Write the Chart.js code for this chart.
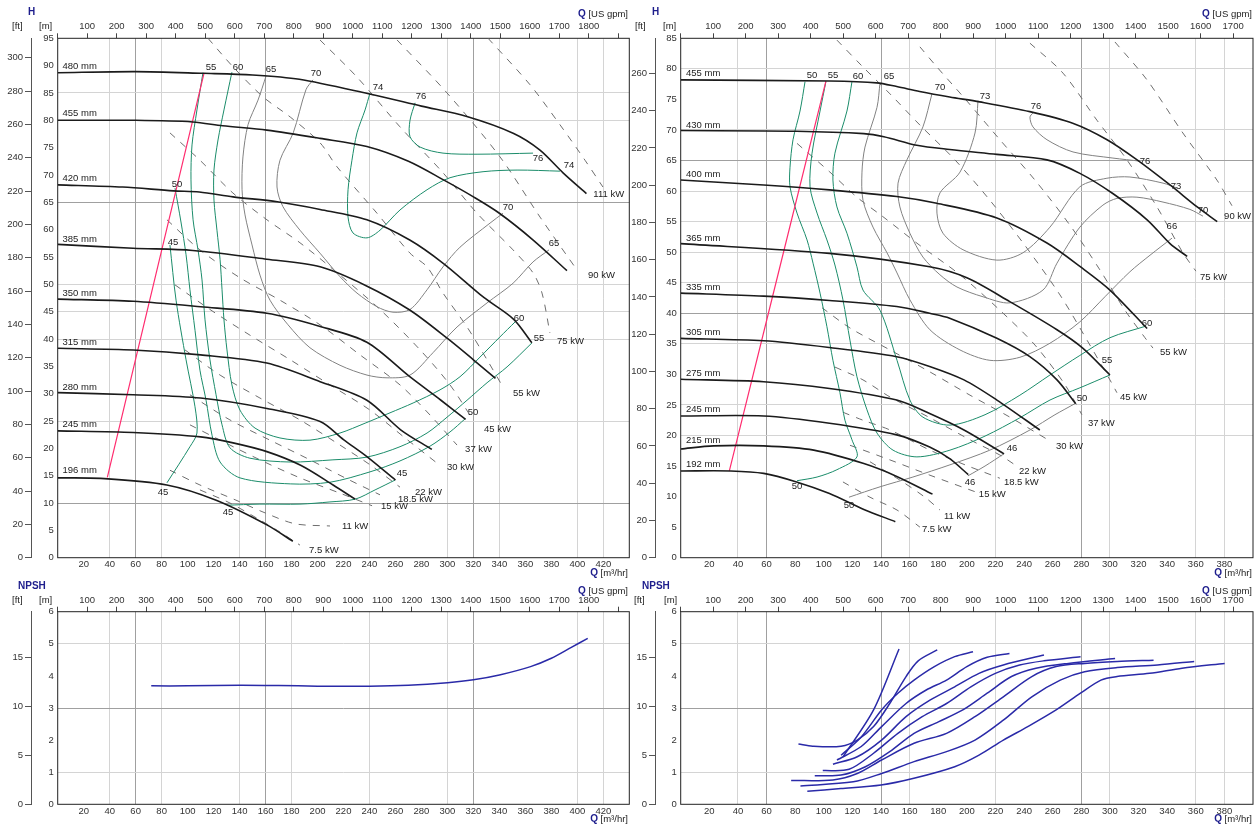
<!DOCTYPE html>
<html>
<head>
<meta charset="utf-8">
<script src="https://cdn.jsdelivr.net/npm/chart.js@4.4.1/dist/chart.umd.min.js"></script>
<style>
  body { margin: 0; background: #fff; width: 1259px; height: 825px; overflow: hidden; position: relative; }
  canvas { position: absolute; }
</style>
</head>
<body>
<canvas id="hLeft" width="640" height="580" style="left:0;top:0"></canvas>
<canvas id="hRight" width="629" height="580" style="left:630px;top:0"></canvas>
<canvas id="nLeft" width="640" height="245" style="left:0;top:580px"></canvas>
<canvas id="nRight" width="629" height="245" style="left:630px;top:580px"></canvas>
<script>
// ---- left pump: impeller curves, Q [m3/hr] / H [m]
const L480 = [[0,88.7],[60,88.9],[112,88.6],[150,88.3],[186,87.5],[240,84.8],[280,82.6],[315,80.7],[351,77.6],[371,74.6],[389,70.4],[407,66.6]];
const L455 = [[0,80.0],[60,80.0],[104,79.7],[127,79.0],[161,78.2],[202,76.7],[238,75.2],[270,72.5],[297,69.1],[320,66.0],[340,63.0],[366,58.1],[392,52.5]];
const L420 = [[0,68.2],[50,67.8],[89,67.1],[109,66.9],[135,66.0],[169,65.1],[202,63.7],[238,61.8],[271,58.1],[297,53.8],[328,47.6],[351,43.6],[365,39.3]];
const L385 = [[0,57.3],[58,56.6],[104,56.2],[161,54.6],[202,53.2],[237,49.8],[271,45.3],[300,40.1],[320,36.2],[337,32.8]];
const L350 = [[0,47.3],[58,46.9],[110,45.9],[161,44.7],[202,42.3],[238,39.4],[271,33.1],[295,28.8],[314,25.3]];
const L315 = [[0,38.3],[58,38.0],[110,37.1],[161,35.6],[202,32.2],[238,28.8],[264,23.4],[288,19.8]];
const L280 = [[0,30.2],[58,29.8],[110,29.2],[161,27.3],[202,24.9],[220,21.6],[238,18.5],[260,14.2]];
const L245 = [[0,23.2],[58,22.9],[110,22.1],[135,21.0],[161,19.4],[187,16.9],[212,13.3],[229,10.7]];
const L196 = [[0,14.6],[33,14.5],[84,13.3],[122,10.5],[161,6.0],[181,3.0]];
const redL = [[38.2,14.7],[112.6,88.6]];

// left efficiency lines
const eL45a = [[86.4,57.2],[91.1,47.1],[98.8,36.2],[105.7,27.6],[107.2,22.8],[101.8,20.3],[84.1,13.7]];
const eL45b = [[130.3,9.6],[155.7,9.8],[186.5,9.8],[209.6,10.2],[228.9,10.7],[244.3,12.4],[259.7,14.2]];
const eL50 = [[90.3,67.6],[94.9,61.4],[98.8,55.4],[101.8,49.0],[105.7,41.6],[109.5,34.3],[114.2,28.8],[118.8,22.4],[125.0,17.5],[140.3,14.6],[179.0,13.5],[209.6,13.8],[240.4,15.7],[263.5,17.7],[286.6,20.4],[302.0,23.0],[313.6,25.4]];
const eL55 = [[111.8,88.7],[107.2,81.9],[103.4,75.5],[102.6,69.1],[104.2,61.8],[108.0,56.3],[111.1,50.8],[113.4,43.5],[117.2,36.2],[121.9,29.8],[126.5,24.3],[132.6,20.1],[148.0,18.2],[179.0,17.5],[211.9,17.9],[238.1,18.4],[263.5,20.3],[284.3,22.8],[299.7,25.7],[315.1,28.8],[330.5,32.0],[345.9,34.9],[365.1,39.3]];
const eL60 = [[134.1,88.8],[128.0,81.9],[123.4,76.4],[120.3,70.9],[120.3,65.4],[122.6,59.9],[125.0,54.5],[126.5,49.0],[128.0,43.5],[130.3,38.0],[134.1,31.6],[140.3,27.0],[151.9,23.7],[171.1,21.9],[194.2,21.5],[217.3,22.8],[236.6,24.6],[255.8,26.5],[273.6,28.3],[294.3,30.7],[309.7,33.1],[325.1,36.7],[340.5,40.4],[352.0,43.1]];
const eL65 = [[160.4,88.1],[154.2,83.7],[146.5,79.2],[142.6,73.3],[141.9,67.3],[144.2,62.7],[149.6,57.2],[155.7,51.7],[163.4,47.1],[177.3,42.6],[194.2,38.4],[217.3,35.2],[238.1,33.4],[253.5,32.9],[271.2,33.4],[288.9,37.5],[307.4,42.2],[330.5,46.6],[350.5,50.2],[365.9,54.1],[378.2,56.3]];
const eL70 = [[196.5,87.4],[191.1,85.6],[181.3,77.7],[171.1,72.7],[168.8,67.8],[173.4,64.2],[186.5,59.9],[201.9,55.7],[217.3,51.4],[230.4,48.4],[245.8,45.9],[258.1,44.9],[271.2,45.4],[284.3,49.0],[296.6,53.2],[309.7,56.8],[332.8,61.2],[342.8,63.0]];
const eL74 = [[240.4,85.0],[236.6,81.9],[230.4,77.7],[226.5,72.7],[223.5,67.3],[223.5,62.3],[227.3,59.4],[238.1,58.5],[248.1,59.9],[263.5,63.6],[284.3,67.3],[302.0,69.5],[327.4,70.6],[353.6,70.9],[386.6,70.7]];
const eL76 = [[275.1,83.2],[271.2,80.0],[271.2,77.0],[279.0,75.1],[296.6,74.0],[322.8,73.8],[365.9,74.0]];

// left power lines (kW)
const pL111 = [[331.3,95],[363.6,86.5],[386.6,79.2],[405.9,72.7],[419.7,67.8]];
const pL90 = [[261.2,94.7],[299.7,85.0],[340.5,73.3],[371.3,62.3],[399.8,52.6]];
const pL75 = [[201.9,94.7],[230.4,87.9],[263.5,78.8],[296.6,70.4],[322.8,63.0],[350.5,56.3],[365.9,52.1],[372.8,48.4],[378.9,41.1]];
const pL55 = [[115.7,95],[134.9,89.8],[158.0,84.3],[179.0,80.6],[201.9,75.9],[215.0,71.5],[245.8,63.0],[271.2,55.7],[284.3,53.2],[296.6,48.4],[315.1,42.2],[330.5,36.2],[342.8,31.2]];
const pL45 = [[86.4,77.7],[109.5,72.7],[134.9,66.7],[161.1,61.8],[186.5,57.6],[217.3,51.7],[248.1,45.4],[279.0,38.0],[302.0,31.6],[319.7,25.2]];
const pL37 = [[84.1,61.8],[109.5,56.3],[140.3,51.2],[171.1,47.1],[201.9,42.6],[232.7,37.1],[263.5,31.6],[286.6,26.1],[307.4,20.6]];
const pL30 = [[90.3,49.9],[117.2,45.4],[148.0,40.7],[179.0,36.2],[209.6,31.6],[240.4,27.0],[267.4,21.9],[292.0,17.3]];
const pL22 = [[98.0,38.0],[125.0,33.4],[155.7,29.2],[186.5,25.2],[217.3,20.6],[240.4,17.0],[263.5,12.9]];
const pL18 = [[101.8,29.8],[132.6,25.2],[163.4,21.5],[194.2,17.9],[221.2,14.6],[248.1,11.5]];
const pL15 = [[101.8,24.3],[125.0,21.5],[155.7,17.9],[186.5,14.6],[217.3,11.8],[242.0,9.5]];
const pL11 = [[86.4,16.0],[109.5,13.3],[136.5,10.6],[159.6,8.2],[182.8,6.2],[209.6,5.8]];
const pL7 = [[109.5,12.4],[132.6,10.0],[155.7,6.9],[171.1,4.7],[186.5,2.3]];

// ---- right pump
const R455 = [[0,78.2],[104,78.0],[137,77.7],[151,77.1],[167,76.3],[188,75.4],[209,74.6],[244,73.0],[274,71.1],[298,68.4],[319,65.1],[342,61.0],[361,57.4],[375,55.0]];
const R430 = [[0,69.9],[81,69.8],[128,69.4],[142,68.9],[165,67.5],[188,66.8],[221,66.0],[256,65.1],[279,62.9],[302,59.6],[326,55.3],[342,51.4],[354,49.3]];
const R400 = [[0,61.8],[58,61.0],[104,60.2],[151,59.1],[179,58.0],[221,55.6],[256,51.5],[280,47.5],[300,43.8],[326,37.5]];
const R365 = [[0,51.4],[104,49.8],[174,47.6],[200,45.8],[230,41.9],[263,37.3],[281,34.3],[300,29.9]];
const R335 = [[0,43.3],[58,42.8],[104,42.1],[151,41.1],[174,40.0],[188,39.2],[221,35.9],[244,32.9],[263,29.1],[276,25.2]];
const R305 = [[0,35.9],[58,35.5],[104,34.4],[151,32.9],[174,31.3],[198,29.1],[221,25.8],[251,20.9]];
const R275 = [[0,29.2],[58,28.8],[104,27.7],[151,25.8],[174,23.6],[198,20.9],[226,17.0]];
const R245 = [[0,23.2],[58,23.2],[104,22.0],[151,20.1],[174,18.1],[188,16.2],[201,13.6]];
const R215 = [[0,17.8],[23,18.3],[58,18.3],[93,17.6],[128,15.4],[151,13.3],[176,10.4]];
const R192 = [[0,14.2],[35,14.2],[58,13.8],[81,12.4],[104,10.5],[128,7.9],[150,5.9]];
const redR = [[34,14.2],[101.5,78.0]];

const eR50a = [[86.9,77.9],[83.4,73.1],[78.5,68.4],[76.4,63.9],[76.4,60.7],[81.3,56.4],[88.3,52.0],[92.5,48.2],[97.4,43.3],[102.2,37.8],[106.4,32.3],[111.3,27.0],[114.8,22.5],[119.7,19.3],[123.2,16.5],[109.2,14.4],[95.3,13.2],[81.3,12.6]];
const eR50b = [[117.6,9.9],[139.3,11.6],[162.3,13.2],[188.2,15.2],[216.1,17.6],[244.1,20.9],[261.6,23.4],[275.5,25.2]];
const eR46 = [[200.8,13.4],[212.7,15.0],[225.9,17.0]];
const eR55 = [[101.5,77.9],[97.4,73.1],[91.8,66.2],[90.4,60.7],[95.3,56.4],[102.2,52.0],[107.8,47.9],[113.4,42.2],[118.3,35.6],[123.2,29.6],[130.2,24.2],[137.2,20.4],[148.4,17.6],[165.1,16.5],[188.2,17.6],[212.7,19.9],[237.1,22.9],[258.1,25.8],[279.0,27.8],[300.0,29.9]];
const eR60 = [[119.7,77.9],[116.2,73.1],[107.8,66.2],[106.4,61.8],[109.2,57.4],[116.2,53.1],[123.2,47.6],[127.4,43.8],[139.3,40.5],[151.2,32.3],[160.2,25.8],[169.3,23.0],[188.2,21.7],[212.7,23.4],[237.1,26.6],[258.1,29.9],[279.0,33.1],[300.0,36.0],[325.2,37.9]];
const eR66 = [[139.3,77.7],[137.2,73.7],[128.8,67.2],[126.7,63.1],[127.4,58.5],[134.4,54.1],[144.2,49.9],[151.2,46.6],[160.2,42.2],[174.2,37.3],[195.2,34.0],[216.1,32.3],[237.1,32.8],[258.1,35.1],[279.0,38.6],[296.5,42.7],[314.0,46.8],[328.0,49.5],[343.4,52.3]];
const eR70 = [[175.6,75.9],[169.3,70.5],[158.1,65.1],[151.9,61.3],[153.2,57.4],[160.2,53.1],[169.3,49.2],[181.2,46.3],[193.1,44.3],[211.3,42.7],[230.1,41.7],[253.2,43.8],[263.0,48.2],[279.0,54.1],[295.1,57.7],[304.9,58.8],[318.9,59.0],[337.1,58.2],[355.9,57.0],[365.0,55.9]];
const eR73 = [[207.8,74.8],[205.7,69.5],[195.2,63.1],[181.2,59.7],[179.1,56.4],[183.3,53.1],[197.3,50.4],[221.0,48.7],[239.2,49.9],[258.1,54.1],[279.0,60.7],[297.9,62.1],[314.0,62.3],[337.1,61.3],[346.9,60.5]];
const eR76 = [[246.2,72.8],[244.1,72.1],[246.2,70.5],[256.0,68.4],[274.2,66.4],[302.1,65.4],[321.0,64.9]];

const pR90 = [[303.5,84.4],[325.9,78.2],[351.0,69.5],[374.8,61.8],[385.3,57.6]];
const pR75 = [[244.1,84.2],[267.2,79.3],[290.9,71.6],[311.9,65.1],[332.9,57.4],[351.0,49.9],[360.1,46.9]];
const pR55 = [[167.2,83.6],[179.1,80.3],[198.7,75.1],[223.1,68.4],[247.6,61.8],[272.1,54.4],[293.0,47.1],[310.5,40.5],[324.5,36.0],[330.1,34.3]];
const pR45 = [[109.2,84.7],[127.4,80.3],[146.3,75.9],[167.2,70.8],[191.7,65.1],[216.1,58.5],[240.6,51.1],[265.1,43.0],[286.0,34.8],[300.0,29.1],[304.9,27.0]];
const pR37 = [[81.3,67.8],[104.3,63.1],[123.2,59.0],[141.4,55.8],[167.2,51.1],[195.2,46.3],[223.1,40.5],[247.6,34.8],[268.6,28.3],[280.4,23.4]];
const pR30 = [[98.8,40.9],[118.3,37.6],[146.3,34.0],[174.2,30.4],[202.2,26.6],[230.1,23.0],[256.7,19.3]];
const pR22 = [[107.8,31.2],[127.4,29.1],[146.3,26.3],[174.2,22.9],[202.2,19.3],[223.1,16.8],[233.6,15.2]];
const pR18 = [[113.4,23.8],[127.4,22.5],[146.3,20.9],[174.2,17.6],[198.7,15.2],[223.1,13.0]];
const pR15 = [[118.3,18.4],[146.3,16.0],[174.2,13.5],[205.7,10.8]];
const pR11 = [[132.3,15.7],[153.2,12.7],[170.7,9.9],[181.2,7.8]];
const pR7 = [[113.4,12.4],[132.3,9.9],[151.2,7.8],[167.2,5.0]];

// ---- NPSH [m]
const npshL = [[72,3.69],[100,3.69],[140,3.71],[170,3.70],[200,3.68],[240,3.68],[270,3.71],[300,3.79],[320,3.88],[340,4.03],[364,4.29],[380,4.55],[395,4.88],[408,5.17]];
const n455 = [[88.5,0.41],[112,0.49],[140,0.60],[163,0.81],[191.5,1.17],[208.5,1.53],[225.5,2.0],[242.6,2.42],[262.4,2.94],[279.4,3.46],[293.7,3.87],[305,3.98],[327.7,4.08],[350.4,4.24],[380.2,4.39]];
const n430 = [[83.7,0.57],[120.6,0.70],[140.4,0.96],[163.1,1.33],[185.8,1.64],[205.7,2.0],[225.5,2.62],[245.4,3.35],[265.3,3.87],[282.3,4.13],[305,4.26],[333.3,4.34],[358.9,4.45]];
const n400 = [[77.2,0.74],[106.4,0.76],[123.4,0.96],[140.4,1.38],[163.1,1.90],[185.8,2.21],[205.7,2.73],[225.5,3.35],[245.4,3.98],[262.4,4.29],[282.3,4.39],[305,4.45],[330.5,4.49]];
const n365 = [[93.7,0.89],[112.1,0.91],[129.1,1.17],[146.1,1.64],[163.1,2.21],[180.1,2.57],[197.2,2.94],[214.2,3.46],[231.2,3.98],[248.3,4.24],[270.9,4.39],[303.6,4.54]];
const n335 = [[99.3,1.05],[117.7,1.09],[134.8,1.59],[151.8,2.21],[168.8,2.73],[185.8,3.14],[202.8,3.66],[219.9,4.08],[236.9,4.34],[253.9,4.47],[279.5,4.60]];
const n305 = [[106.4,1.25],[123.4,1.48],[140.4,2.0],[157.5,2.73],[174.5,3.25],[191.5,3.66],[208.5,4.08],[225.5,4.34],[253.9,4.65]];
const n275 = [[109.2,1.38],[126.2,1.80],[140.4,2.42],[157.5,3.14],[171.6,3.56],[185.8,3.87],[200,4.29],[214.2,4.58],[229.8,4.70]];
const n245 = [[112.1,1.53],[126.2,2.10],[140.4,2.94],[151.8,3.46],[163.1,3.87],[177.3,4.29],[191.5,4.60],[204.3,4.75]];
const n215 = [[82.3,1.88],[92.2,1.81],[112.1,1.81],[123.4,2.0],[134.8,2.42],[146.1,3.14],[157.5,3.98],[166,4.47],[179.3,4.81]];
const n192 = [[113.5,1.48],[134.8,2.94],[152.6,4.84]];

// ---- text on the plots: [text, H] / [text, Q, H]
const diaL = [["480 mm",89.8],["455 mm",81.2],["420 mm",69.3],["385 mm",58.3],["350 mm",48.4],["315 mm",39.4],["280 mm",31.2],["245 mm",24.3],["196 mm",15.9]];
const diaR = [["455 mm",79.2],["430 mm",70.8],["400 mm",62.8],["365 mm",52.3],["335 mm",44.3],["305 mm",36.9],["275 mm",30.2],["245 mm",24.3],["215 mm",19.2],["192 mm",15.2]];
const effL = [["55",118,89.7],["60",138.8,89.7],["65",164.2,89.4],["70",198.8,88.5],["74",246.6,86.1],["76",279.7,84.3],["76",369.7,73.1],["74",393.6,71.8],["70",346.6,64.1],["65",382,57.5],["60",355.1,43.8],["55",370.5,40.2],["50",319.7,26.5],["45",265,15.5],["50",91.8,68.2],["45",88.8,57.6],["45",81.1,12.0],["45",131.1,8.2]];
const effR = [["50",91.8,79.0],["55",106.4,79.0],["60",123.9,78.8],["65",145.6,78.7],["70",181.2,77.0],["73",212.7,75.5],["76",248.3,73.9],["76",324.5,64.9],["73",346.2,60.8],["70",365,56.9],["66",343.3,54.3],["60",326,38.4],["55",298,32.3],["50",280.5,26.1],["46",231.5,17.9],["46",202.2,12.4],["50",81.3,11.6],["50",117.6,8.6]];
const kwL = [["111 kW",412.3,66.5],["90 kW",408.2,51.7],["75 kW",384.4,39.5],["55 kW",350.5,30.1],["45 kW",328.2,23.4],["37 kW",313.6,19.9],["30 kW",299.7,16.6],["22 kW",275.1,12.0],["18.5 kW",262,10.6],["15 kW",248.9,9.3],["11 kW",218.8,5.8],["7.5 kW",193.5,1.4]];
const kwR = [["90 kW",379.8,55.9],["75 kW",362.9,45.8],["55 kW",335,33.6],["45 kW",307,26.3],["37 kW",284.6,22.0],["30 kW",262.3,18.3],["22 kW",236.4,14.2],["18.5 kW",225.9,12.4],["15 kW",208.4,10.3],["11 kW",184,6.8],["7.5 kW",168.6,4.7]];

// grid values that the original draws
const gridQL = [40,60,80,140,160,240,300,320,340,400,420], darkQL = [60,160,320];
const gridQLn = [40,60,80,140,160,180,240,300,320,400,420];
const gridHL = [10,25,40,45,50,65,80,85], darkHL = [10,65];
const gridQR = [40,60,140,160,220,280,300,360,380], darkQR = [60,140,280];
const gridHR = [20,25,35,40,45,50,55,60,65,70,80], darkHR = [40,65];
const gridN = [1,3,5], darkN = [3];

const GPM = 4.40287, FT = 3.28084;
const FONT = '"Liberation Sans", Arial, sans-serif';
const tickFont = { family: FONT, size: 9.5 };
const BLUE = '#1d1d8c';

function gridCol(v, list, dark) {
  if (dark.includes(v)) return '#a0a0a0';
  if (list.includes(v)) return '#d4d4d4';
  return 'rgba(0,0,0,0)';
}

function fixBox(prop, v) {
  return s => { s[prop] = v; s.paddingLeft = 0; s.paddingRight = 0; s.paddingTop = 0; s.paddingBottom = 0; };
}

function line(data, color, width, dash) {
  return { data, borderColor: color, borderWidth: width, borderDash: dash || [], showLine: true,
           pointRadius: 0, pointHitRadius: 0, tension: 0.3, fill: false };
}

const pumpPlugin = {
  id: 'pump',
  beforeDatasetsDraw(chart) {
    const a = chart.chartArea, c = chart.ctx;
    c.save();
    c.strokeStyle = '#222';
    c.lineWidth = 1;
    c.strokeRect(a.left, a.top, a.right - a.left, a.bottom - a.top);
    c.restore();
  },
  afterDatasetsDraw(chart, args, o) {
    const c = chart.ctx, x = chart.scales.x, y = chart.scales.y;
    const norm = '9.5px ' + FONT, bold = 'bold 10px ' + FONT;
    c.save();
    c.font = norm;
    c.fillStyle = '#222';
    c.textBaseline = 'middle';
    c.textAlign = 'left';
    (o.dia || []).forEach(([t, h]) => c.fillText(t, x.getPixelForValue(3.7), y.getPixelForValue(h)));
    (o.kw || []).forEach(([t, q, h]) => c.fillText(t, x.getPixelForValue(q), y.getPixelForValue(h)));
    c.textAlign = 'center';
    (o.eff || []).forEach(([t, q, h]) => c.fillText(t, x.getPixelForValue(q), y.getPixelForValue(h)));

    const h = o.head;
    c.textAlign = 'left';
    c.font = bold;
    c.fillStyle = BLUE;
    c.fillText(h.main, h.mainX, h.mainY);
    c.font = norm;
    c.fillStyle = '#222';
    c.fillText('[ft]', h.ftX, h.subY);
    c.fillText('[m]', h.mX, h.subY);
    const qTitle = (unit, yy) => {
      c.font = norm;
      const w = c.measureText(' ' + unit).width;
      c.fillStyle = '#222';
      c.fillText(' ' + unit, h.qRight - w, yy);
      c.font = bold;
      const qw = c.measureText('Q').width;
      c.fillStyle = BLUE;
      c.fillText('Q', h.qRight - w - qw, yy);
    };
    qTitle('[US gpm]', h.qTopY);
    qTitle('[m³/hr]', h.qBotY);
    c.restore();
  }
};

function makeChart(id, o) {
  const ds = [];
  o.black.forEach(d => ds.push(line(d, '#1b1b1b', 1.6)));
  if (o.red) ds.push(line(o.red, '#ff2d6f', 1.2));
  (o.green || []).forEach(d => ds.push(line(d, '#1b8c6a', 1)));
  (o.gray || []).forEach(d => ds.push(line(d, '#828282', 1)));
  (o.dash || []).forEach(d => ds.push(line(d, '#6e6e6e', 1, [7, 7])));
  (o.blue || []).forEach(d => ds.push(line(d, '#2a2aa8', 1.5)));

  new Chart(document.getElementById(id), {
    type: 'scatter',
    data: { datasets: ds },
    options: {
      responsive: false,
      animation: false,
      events: [],
      layout: { padding: { left: 0, top: 0, bottom: 0, right: o.padR } },
      plugins: { legend: { display: false }, tooltip: { enabled: false }, pump: o.notes },
      scales: {
        x: {
          type: 'linear', position: 'bottom', min: 0, max: o.qMax,
          ticks: { stepSize: 20, autoSkip: false, maxRotation: 0, minRotation: 0, padding: 1, color: '#333', font: tickFont,
                   callback: v => (v === 0 || v === o.qMax) ? '' : v },
          grid: { color: c => gridCol(c.tick.value, o.gridQ, o.darkQ), drawTicks: false },
          border: { display: false },
          afterFit: fixBox('height', o.botH)
        },
        x2: {
          type: 'linear', position: 'top', min: 0, max: o.qMax * GPM,
          ticks: { stepSize: 100, includeBounds: false, autoSkip: false, maxRotation: 0, minRotation: 0, padding: 1,
                   color: '#333', font: tickFont, callback: v => (v === 0 || v > 1850) ? '' : v },
          grid: { drawOnChartArea: false, tickLength: 5, color: '#444' },
          border: { display: false },
          afterFit: fixBox('height', o.topH)
        },
        y: {
          type: 'linear', position: 'left', weight: 0, min: 0, max: o.hMax,
          ticks: { stepSize: o.hStep, autoSkip: false, padding: 4, color: '#333', font: tickFont },
          grid: { color: c => gridCol(c.tick.value, o.gridH, o.darkH), drawTicks: false },
          border: { display: false },
          afterFit: fixBox('width', o.mW)
        },
        yft: {
          type: 'linear', position: 'left', weight: 1, min: 0, max: o.hMax * FT,
          ticks: { stepSize: o.ftStep, includeBounds: false, autoSkip: false, padding: 2, color: '#333', font: tickFont },
          grid: { drawOnChartArea: false, tickLength: 6, color: '#555' },
          border: { display: true, color: '#555' },
          afterFit: fixBox('width', o.ftW)
        }
      }
    },
    plugins: [pumpPlugin]
  });
}

makeChart('hLeft', {
  qMax: 440, hMax: 95, hStep: 5, ftStep: 20, padR: 10.7, botH: 22.3, topH: 38.3, mW: 26.7, ftW: 31,
  gridQ: gridQL, darkQ: darkQL, gridH: gridHL, darkH: darkHL,
  black: [L480, L455, L420, L385, L350, L315, L280, L245, L196],
  red: redL,
  green: [eL45a, eL45b, eL50, eL55, eL60, eL74, eL76],
  gray: [eL65, eL70],
  dash: [pL111, pL90, pL75, pL55, pL45, pL37, pL30, pL22, pL18, pL15, pL11, pL7],
  notes: { dia: diaL, eff: effL, kw: kwL,
           head: { main: 'H', mainX: 28, mainY: 12, ftX: 12, mX: 39, subY: 26, qRight: 628, qTopY: 14, qBotY: 573 } }
});

makeChart('hRight', {
  qMax: 400, hMax: 85, hStep: 5, ftStep: 20, padR: 6, botH: 22.3, topH: 38.3, mW: 25.7, ftW: 25,
  gridQ: gridQR, darkQ: darkQR, gridH: gridHR, darkH: darkHR,
  black: [R455, R430, R400, R365, R335, R305, R275, R245, R215, R192],
  red: redR,
  green: [eR50a, eR55, eR60],
  gray: [eR50b, eR46, eR66, eR70, eR73, eR76],
  dash: [pR90, pR75, pR55, pR45, pR37, pR30, pR22, pR18, pR15, pR11, pR7],
  notes: { dia: diaR, eff: effR, kw: kwR,
           head: { main: 'H', mainX: 22, mainY: 12, ftX: 5, mX: 33, subY: 26, qRight: 622, qTopY: 14, qBotY: 573 } }
});

makeChart('nLeft', {
  qMax: 440, hMax: 6, hStep: 1, ftStep: 5, padR: 10.7, botH: 20.7, topH: 31.7, mW: 26.7, ftW: 31,
  gridQ: gridQLn, darkQ: darkQL, gridH: gridN, darkH: darkN,
  black: [],
  blue: [npshL],
  notes: { head: { main: 'NPSH', mainX: 18, mainY: 6, ftX: 12, mX: 39, subY: 20, qRight: 628, qTopY: 11, qBotY: 239 } }
});

makeChart('nRight', {
  qMax: 400, hMax: 6, hStep: 1, ftStep: 5, padR: 6, botH: 20.7, topH: 31.7, mW: 25.7, ftW: 25,
  gridQ: gridQR, darkQ: darkQR, gridH: gridN, darkH: darkN,
  black: [],
  blue: [n455, n430, n400, n365, n335, n305, n275, n245, n215, n192],
  notes: { head: { main: 'NPSH', mainX: 12, mainY: 6, ftX: 4, mX: 34, subY: 20, qRight: 622, qTopY: 11, qBotY: 239 } }
});
</script>
</body>
</html>
